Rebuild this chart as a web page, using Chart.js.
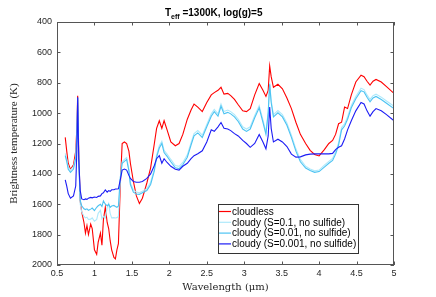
<!DOCTYPE html>
<html>
<head>
<meta charset="utf-8">
<script src="https://cdn.jsdelivr.net/npm/chart.js@4/dist/chart.umd.min.js"></script>
<style>
  html, body { margin: 0; padding: 0; background: #fff; }
  #wrap { width: 436px; height: 297px; }
</style>
</head>
<body>
<div id="wrap"><canvas id="spec" width="436" height="297"></canvas></div>
<script>
// wavelength grid (micron)
var wavelength = [
  0.61, 0.63, 0.65, 0.68, 0.72, 0.75, 0.765, 0.776, 0.79, 0.81,
  0.83, 0.86, 0.88, 0.9, 0.92, 0.95, 0.97, 1.0, 1.03, 1.05,
  1.08, 1.1, 1.12, 1.145, 1.17, 1.19, 1.21, 1.23, 1.26, 1.28,
  1.3, 1.32, 1.345, 1.37, 1.4, 1.43, 1.46, 1.48, 1.52, 1.56,
  1.6, 1.64, 1.7, 1.75, 1.8, 1.83, 1.866, 1.9, 1.93, 1.97,
  2.02, 2.08, 2.13, 2.18, 2.24, 2.29, 2.33, 2.38, 2.44, 2.5,
  2.56, 2.6, 2.65, 2.69, 2.73, 2.78, 2.82, 2.87, 2.92, 2.98,
  3.03, 3.08, 3.14, 3.2, 3.25, 3.29, 3.32, 3.34, 3.36, 3.39,
  3.45, 3.51, 3.57, 3.63, 3.69, 3.75, 3.82, 3.88, 3.94, 4.0,
  4.07, 4.13, 4.18, 4.22, 4.26, 4.3, 4.34, 4.38, 4.43, 4.49,
  4.56, 4.6, 4.64, 4.68, 4.72, 4.76, 4.83, 4.9, 5.0
];

// brightness temperature (K)
var cloudless = [
  1160, 1250, 1330, 1370, 1340, 1250, 1100, 885, 1250, 1580,
  1650, 1720, 1790, 1740, 1800, 1730, 1760, 1900, 1930, 1850,
  1790, 1870, 1700, 1620, 1720, 1760, 1840, 1900, 1950, 1960,
  1900, 1860, 1480, 1200, 1190, 1200, 1250, 1330, 1450, 1545,
  1595, 1560, 1460, 1360, 1200, 1100, 1050, 1100, 1050, 1110,
  1190, 1215, 1200, 1140, 1040, 980, 940, 960, 990, 930,
  880, 865, 850, 830, 875, 870, 885, 910, 945, 985,
  990, 970, 880, 805, 850, 890, 850, 690, 760, 830,
  810, 840, 900, 970, 1060, 1140, 1200, 1245, 1272, 1282,
  1240, 1200, 1180, 1140, 1070, 1060, 960, 970, 880, 795,
  750, 760, 790, 815, 790, 778, 795, 825, 870
];

var cloudyS01 = [
  1265, 1305, 1355, 1375, 1352, 1290, 1140, 900, 1310, 1600,
  1650, 1680, 1690, 1685, 1700, 1698, 1690, 1712, 1700, 1660,
  1640, 1695, 1680, 1690, 1620, 1595, 1660, 1690, 1688, 1690,
  1688, 1680, 1440, 1320, 1305, 1292, 1370, 1460, 1505, 1520,
  1525, 1515, 1498, 1455, 1365, 1275, 1215, 1185, 1245, 1270,
  1305, 1345, 1350, 1325, 1275, 1195, 1135, 1115, 1145, 1075,
  1005, 975, 1005, 940, 990, 980, 990, 1010, 1040, 1090,
  1105, 1090, 1015, 950, 1045, 1125, 990, 800, 915, 1010,
  983, 1010, 1065, 1145, 1235, 1305, 1350, 1368, 1380, 1375,
  1342, 1318, 1298, 1255, 1195, 1095, 1070, 1025, 950, 890,
  836, 845, 880, 910, 885, 875, 895, 920, 955
];

var cloudyS001 = [
  1280, 1320, 1370, 1390, 1368, 1300, 1150, 900, 1300, 1575,
  1610, 1630, 1635, 1630, 1640, 1632, 1625, 1642, 1620, 1610,
  1600, 1615, 1578, 1600, 1610, 1600, 1620, 1612, 1608, 1615,
  1620, 1612, 1425, 1330, 1318, 1305, 1380, 1470, 1520, 1532,
  1535, 1525, 1510, 1470, 1380, 1290, 1230, 1200, 1260, 1285,
  1320, 1360, 1365, 1340, 1290, 1210, 1150, 1130, 1160, 1090,
  1020, 990, 1020, 955, 1005, 995, 1005, 1025, 1055, 1105,
  1120, 1105, 1030, 965, 1060, 1140, 1000, 810, 930, 1025,
  998, 1025, 1080, 1160, 1250, 1320, 1362, 1378, 1390, 1385,
  1355, 1330, 1312, 1270, 1210, 1110, 1085, 1040, 965, 905,
  852, 860, 895, 925, 900, 890, 910, 935, 970
];

var cloudyS0001 = [
  1440, 1480, 1530, 1560, 1545, 1480, 1250, 895, 1300, 1510,
  1565, 1570, 1565, 1568, 1560, 1555, 1558, 1552, 1555, 1548,
  1545, 1530, 1525, 1505, 1520, 1510, 1515, 1505, 1505, 1500,
  1500, 1498, 1440, 1375, 1368, 1375, 1410, 1430, 1450, 1455,
  1455, 1450, 1430, 1400, 1345, 1300, 1280, 1330, 1300, 1325,
  1350, 1370, 1375, 1350, 1330, 1300, 1280, 1268, 1248, 1190,
  1110, 1120, 1090, 1062, 1100, 1105, 1115, 1135, 1150, 1180,
  1200, 1225, 1200, 1140, 1190, 1235, 1150, 960, 1100, 1190,
  1172, 1190, 1220, 1270, 1290, 1288, 1275, 1270, 1268, 1268,
  1268, 1268, 1265, 1240, 1225, 1215, 1170, 1110, 1050, 985,
  930, 940, 985, 1020, 990, 970, 985, 1010, 1050
];

var seriesNames = ["cloudless", "cloudy (S=0.1, no sulfide)", "cloudy (S=0.01, no sulfide)", "cloudy (S=0.001, no sulfide)"];
var seriesColors = ["#ff0000", "#aee9fb", "#4cc3f2", "#1c1cf5"];
var seriesValues = [cloudless, cloudyS01, cloudyS001, cloudyS0001];

function pts(vals) {
  return wavelength.map(function (w, i) { return { x: w, y: vals[i] }; });
}

var datasets = seriesValues.map(function (v, i) {
  return {
    label: seriesNames[i],
    data: pts(v),
    borderColor: seriesColors[i],
    backgroundColor: seriesColors[i],
    borderWidth: 1.1,
    pointRadius: 0,
    tension: 0,
    fill: false,
    order: 4 - i   // later series drawn on top
  };
});

// box, inward ticks, title and legend (matlab look)
var decor = {
  id: 'decor',
  afterDraw: function (chart) {
    var ctx = chart.ctx, a = chart.chartArea;
    var xs = chart.scales.x, ys = chart.scales.y;
    ctx.save();
    ctx.strokeStyle = '#555';
    ctx.lineWidth = 1;
    ctx.strokeRect(Math.round(a.left) + 0.5, Math.round(a.top) + 0.5,
      Math.round(a.right - a.left) - 1, Math.round(a.bottom - a.top) - 1);
    ctx.beginPath();
    xs.ticks.forEach(function (t) {
      var px = Math.round(xs.getPixelForValue(t.value)) + 0.5;
      ctx.moveTo(px, a.bottom); ctx.lineTo(px, a.bottom - 3.5);
      ctx.moveTo(px, a.top); ctx.lineTo(px, a.top + 3.5);
    });
    ys.ticks.forEach(function (t) {
      var py = Math.round(ys.getPixelForValue(t.value)) + 0.5;
      ctx.moveTo(a.left, py); ctx.lineTo(a.left + 3.5, py);
      ctx.moveTo(a.right, py); ctx.lineTo(a.right - 3.5, py);
    });
    ctx.stroke();

    // title with subscript
    ctx.fillStyle = '#000';
    ctx.textBaseline = 'alphabetic';
    ctx.textAlign = 'left';
    ctx.font = 'bold 10px "Liberation Sans", Arial, sans-serif';
    var tx = 165, ty = 16;
    ctx.fillText('T', tx, ty);
    tx += ctx.measureText('T').width;
    ctx.font = 'bold 7px "Liberation Sans", Arial, sans-serif';
    ctx.fillText('eff', tx, ty + 3);
    tx += ctx.measureText('eff').width;
    ctx.font = 'bold 10px "Liberation Sans", Arial, sans-serif';
    ctx.fillText(' =1300K, log(g)=5', tx, ty);

    // legend
    var lx = 218, ly = 204, lw = 140, lh = 49;
    ctx.fillStyle = '#fff';
    ctx.fillRect(lx, ly, lw, lh);
    ctx.strokeStyle = '#333';
    ctx.strokeRect(lx + 0.5, ly + 0.5, lw, lh);
    ctx.font = '10px "Liberation Sans", Arial, sans-serif';
    ctx.textBaseline = 'middle';
    chart.data.datasets.forEach(function (ds, i) {
      var yy = ly + 7.5 + i * 10.8;
      ctx.strokeStyle = ds.borderColor;
      ctx.lineWidth = 1.2;
      ctx.beginPath();
      ctx.moveTo(lx + 1, yy); ctx.lineTo(lx + 13, yy);
      ctx.stroke();
      ctx.fillStyle = '#000';
      ctx.fillText(ds.label, lx + 14, yy + 0.5);
    });
    ctx.restore();
  }
};

new Chart(document.getElementById("spec"), {
  type: 'line',
  data: { datasets: datasets },
  options: {
    responsive: false,
    animation: false,
    layout: { padding: { left: 0, right: 42, top: 22, bottom: 0 } },
    plugins: {
      legend: { display: false },
      tooltip: { enabled: false },
      title: { display: false }
    },
    scales: {
      x: {
        type: 'linear',
        min: 0.5,
        max: 5,
        ticks: {
          stepSize: 0.5,
          padding: 3,
          color: '#262626',
          font: { family: '"Liberation Sans", Arial, sans-serif', size: 9 },
          maxRotation: 0,
          callback: function (v) { return String(Math.round(v * 10) / 10); }
        },
        grid: { display: false, drawTicks: false },
        border: { display: false },
        title: {
          display: true,
          text: 'Wavelength (\u03bcm)',
          color: '#262626',
          font: { family: '"DejaVu Serif", "Liberation Serif", serif', size: 10 },
          padding: { top: 0, bottom: 4 }
        },
        afterFit: function (s) { s.height = 32; }
      },
      y: {
        type: 'linear',
        reverse: true,
        min: 400,
        max: 2000,
        ticks: {
          stepSize: 200,
          padding: 5,
          color: '#262626',
          font: { family: '"Liberation Sans", Arial, sans-serif', size: 9 },
          callback: function (v) { return String(v); }
        },
        grid: { display: false, drawTicks: false },
        border: { display: false },
        title: {
          display: true,
          text: 'Brightness temperature (K)',
          color: '#262626',
          font: { family: '"Liberation Serif", "DejaVu Serif", serif', size: 11 },
          padding: { top: 8, bottom: 0 }
        },
        afterFit: function (s) { s.width = 57; }
      }
    }
  },
  plugins: [decor]
});
</script>
</body>
</html>
